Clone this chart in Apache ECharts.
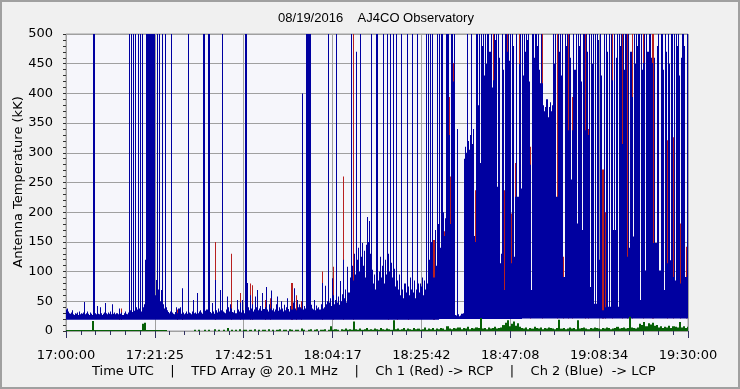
<!DOCTYPE html>
<html><head><meta charset="utf-8">
<script src="https://cdn.jsdelivr.net/npm/echarts@6/dist/echarts.min.js"></script>
<style>html,body{margin:0;padding:0;background:#f0f0f0;}#c{width:740px;height:389px;}</style>
</head><body><div id="c"></div>
<script>
// ---- data ----
const titleText = '08/19/2016    AJ4CO Observatory';
const yName = 'Antenna Temperature (kK)';
const footText = 'Time UTC    |    TFD Array @ 20.1 MHz    |    Ch 1 (Red) -> RCP    |    Ch 2 (Blue)  -> LCP';
const timeLabels = ['17:00:00','17:21:25','17:42:51','18:04:17','18:25:42','18:47:08','19:08:34','19:30:00'];
const spanMinutes = 150;
const blueStepMin = 0.25;   // one sample every 15 s
const greenStepMin = 0.5;
// lower edge of the blue/red trace, per 10-minute block
const blueFloor = [19,19,19,19,19,19,19,19,19,20,20,21,21,21,21,21];
// Ch 2 (blue) upper value per 15 s sample (values above 500 are off-scale)
const blueHigh = [
36,38,33,30,29,31,35,28,27,30,29,31,27,33,28,30,29,31,49,28,30,33,29,27,31,
29,27,600,30,28,42,29,28,40,30,27,29,31,47,30,28,31,29,33,28,45,29,31,28,30,
30,28,38,29,31,27,30,33,29,28,31,600,35,600,32,600,34,600,40,36,600,38,600,33,600,
40,45,120,600,600,600,600,600,600,600,600,60,86,600,70,600,50,69,600,45,38,600,40,35,32,
30,33,600,31,29,28,32,40,30,38,40,29,72,31,28,30,33,29,600,31,30,28,33,52,30,
31,29,64,30,33,35,31,29,600,600,34,36,600,600,32,30,47,33,29,86,35,31,38,33,69,
35,600,33,31,30,36,58,40,33,45,38,32,31,35,30,52,36,33,48,31,52,35,30,600,600,
81,40,35,60,38,45,33,36,58,40,69,35,38,42,34,64,37,40,74,36,33,45,38,68,35,
38,33,36,45,58,34,40,36,50,38,33,44,35,40,55,37,33,42,36,48,72,38,35,52,40,
45,40,38,400,36,42,38,600,600,600,600,600,44,38,36,52,35,43,38,40,36,45,81,38,40,
76,45,50,600,48,55,42,89,60,45,52,600,48,58,44,84,50,62,120,55,70,48,108,65,90,
600,110,85,130,95,470,120,140,100,600,125,148,110,135,90,145,192,150,185,130,600,103,80,95,70,
600,85,100,125,90,110,600,80,120,95,600,130,100,600,115,90,600,105,75,600,85,70,95,60,600,
70,55,80,65,600,75,60,90,70,600,65,85,55,70,600,80,65,80,75,90,60,85,70,600,80,
600,120,600,150,600,90,170,110,600,180,600,140,600,600,200,160,190,600,600,600,330,180,600,600,420,
600,27,26,340,28,25,26,29,30,290,310,300,600,320,305,330,600,315,340,160,150,600,600,380,600,
283,600,480,600,430,600,450,600,600,470,600,410,422,600,490,600,243,600,460,114,130,600,440,69,600,
600,470,600,455,600,114,600,480,125,226,600,226,450,600,240,600,430,600,470,600,490,600,420,280,69,
600,600,460,600,600,480,600,440,417,600,417,380,370,377,390,360,377,385,370,380,600,450,600,226,226,
600,470,600,430,600,91,91,600,480,600,338,600,460,255,338,600,440,600,181,600,480,600,420,170,600,
600,338,600,470,330,600,74,600,450,600,46,600,46,600,490,120,600,430,35,600,40,600,470,41,600,
41,600,422,170,600,170,460,600,41,600,480,600,315,600,440,600,600,125,600,140,470,394,159,600,450,
600,480,600,600,52,600,440,451,600,102,600,470,470,600,600,460,451,148,460,148,148,480,600,102,600,
600,440,69,600,470,114,600,450,119,600,600,91,600,85,600,480,600,430,80,460,600,600,480,91,91,600
];
// Ch 1 (red) peaks: [sample index, value]
const redSpikes = [
[52,36],[54,38],[108,36],[112,38],[144,150],[160,130],[168,64],[178,80],[180,77],[192,52],[197,55],
[218,81],[222,60],[227,50],[247,100],[258,108],[268,260],[277,600],[311,72],[320,52],[330,52],
[355,153],[365,168],[370,394],[371,260],[374,451],[395,237],[412,600],[423,237],[426,600],[430,198],
[434,283],[437,600],[448,310],[460,600],[474,600],[480,125],[485,600],[489,394],[501,600],[504,340],
[518,272],[520,200],[527,600],[537,600],[542,600],[546,600],[557,600],[566,600],[567,600],[580,321],
[586,326],[593,181],[599,142]
];
// third trace (green) per 30 s sample, null = no data
const greenVals = [
1,1,1,1,1,1,1,1,1,1,1,1,1,17,1,1,1,1,1,1,
1,1,1,1,1,1,1,1,1,1,1,1,1,1,1,1,1,12,14,1,
1,1,1,1,1,1,1,1,1,null,null,null,null,null,null,null,null,null,null,null,
null,null,2,0,2,0,0,2,0,2,0,0,3,0,2,0,2,0,5,0,
2,0,2,0,3,0,2,2,0,2,0,3,0,2,0,2,2,0,3,0,
2,0,2,3,0,2,2,0,3,2,0,2,2,0,4,2,0,2,3,0,
2,3,0,2,2,3,0,2,8,2,3,2,0,3,2,4,2,3,2,16,
3,2,4,2,3,5,2,3,2,4,3,2,5,3,2,4,3,2,18,3,
4,2,3,5,2,4,3,2,5,3,4,2,3,6,2,4,3,5,2,4,
3,5,4,2,8,4,3,5,4,6,6,3,5,4,7,3,5,4,6,5,
22,4,5,3,6,4,5,7,4,5,6,10,14,18,8,12,16,9,13,7,
5,4,6,3,5,4,7,5,4,6,3,5,4,6,5,4,3,5,19,4,
5,3,4,6,4,5,3,18,4,5,6,4,3,5,4,6,5,4,3,5,
4,6,5,3,4,5,7,4,5,6,4,5,24,6,5,4,6,12,10,15,
8,13,11,14,9,10,6,8,5,7,6,9,5,8,7,6,15,6,8,5,
7
];

// ---- chart ----
const slot = spanMinutes / (timeLabels.length - 1); // minutes per labelled interval
const toX = m => m / slot;
const floorAt = m => blueFloor[Math.min(blueFloor.length - 1, Math.floor(m / 10))];
const blueData = blueHigh.map((v, i) => { const m = i * blueStepMin; return [toX(m), floorAt(m), v]; });
const redData = redSpikes.map(([i, v]) => { const m = i * blueStepMin; return [toX(m), floorAt(m), v]; });
const greenData = greenVals.map((v, i) => [toX(i * greenStepMin), 0, v]).filter(d => d[2] !== null && d[2] > 0);

function barRenderer(color, stepMin, minH) {
  return function (params, api) {
    const x = api.value(0), lo = api.value(1), hi = Math.min(api.value(2), 500);
    const p0 = api.coord([x, lo]), p1 = api.coord([x, hi]);
    const w = api.size([toX(stepMin), 0])[0];
    const x0 = Math.round(p0[0] - w / 2), x1 = Math.max(x0 + 1, Math.round(p0[0] + w / 2));
    const top = Math.min(p1[1], p0[1] - minH);
    return { type: 'rect', shape: { x: x0, y: top, width: x1 - x0, height: p0[1] - top },
      style: { fill: color } };
  };
}

const FONT = 'DejaVu Sans';
const chart = echarts.init(document.getElementById('c'), null, { renderer: 'canvas' });
chart.setOption({
  animation: false,
  backgroundColor: '#f0f0f0',
  grid: { left: 66, right: 52, top: 34, bottom: 58, show: true, backgroundColor: '#f6f6fb', borderColor: '#a0a0a0', borderWidth: 1 },
  xAxis: {
    type: 'value', min: 0, max: timeLabels.length - 1, interval: 1, offset: 3,
    axisLine: { show: false },
    axisTick: { show: true, length: 7, lineStyle: { color: '#303060' } },
    minorTick: { show: true, splitNumber: 6, length: 4, lineStyle: { color: '#303060' } },
    axisLabel: { margin: 15, fontFamily: FONT, fontSize: 13, color: '#000',
      formatter: v => timeLabels[Math.round(v)] },
    splitLine: { show: true, lineStyle: { color: '#a0a0a0' } }
  },
  yAxis: {
    type: 'value', min: 0, max: 500, interval: 50, offset: 6,
    axisLine: { show: false },
    axisTick: { show: true, length: 3, lineStyle: { color: '#303030' } },
    minorTick: { show: true, splitNumber: 5, length: 3, lineStyle: { color: '#303030' } },
    axisLabel: { margin: 7, fontFamily: FONT, fontSize: 13, color: '#000' },
    splitLine: { show: true, lineStyle: { color: '#a0a0a0' } }
  },
  graphic: [
    { type: 'rect', silent: true, shape: { x: 1, y: 1, width: 738, height: 387 }, style: { fill: null, stroke: '#a0a0a0', lineWidth: 2 } },
    { type: 'text', x: 376, y: 18, style: { text: titleText, font: '13px "Liberation Sans"', fill: '#000', textAlign: 'center', textVerticalAlign: 'middle' } },
    { type: 'text', x: 19, y: 182, rotation: Math.PI / 2, style: { text: yName, font: '13px "DejaVu Sans"', fill: '#000', textAlign: 'center', textVerticalAlign: 'middle' } },
    { type: 'text', x: 92, y: 372, style: { text: footText, font: '13px "DejaVu Sans"', fill: '#000', textAlign: 'left', textVerticalAlign: 'middle' } }
  ],
  series: [
    { type: 'custom', name: 'Ch 1', renderItem: barRenderer('#b82020', blueStepMin, 0), data: redData, clip: true, z: 2,
      encode: { x: 0, y: [1, 2] } },
    { type: 'custom', name: 'Ch 2', renderItem: barRenderer('#0000a0', blueStepMin, 0), data: blueData, clip: true, z: 3,
      encode: { x: 0, y: [1, 2] } },
    { type: 'custom', name: 'Ch 3', renderItem: barRenderer('#066006', greenStepMin, 1), data: greenData, clip: true, z: 4,
      encode: { x: 0, y: [1, 2] } }
  ]
});
</script></body></html>
